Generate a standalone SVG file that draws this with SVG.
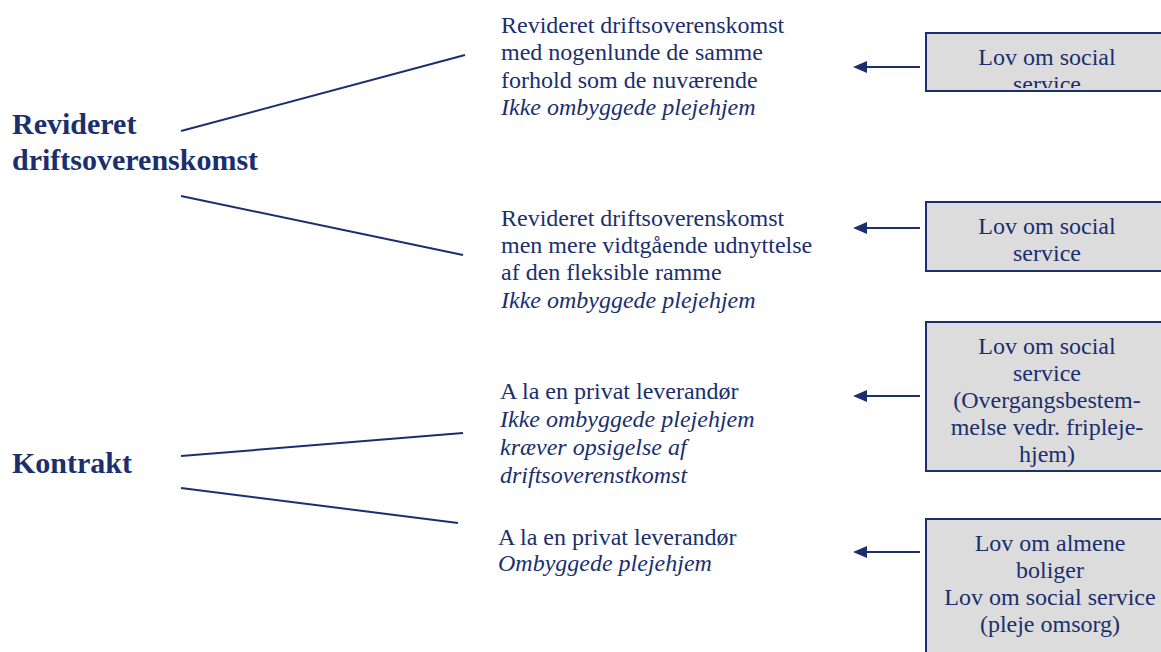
<svg xmlns="http://www.w3.org/2000/svg" width="1161" height="652" viewBox="0 0 1161 652">
<style>
text{font-family:"Liberation Serif","Times New Roman",serif;fill:#1b2f6e;font-size:24px}
.h{font-weight:bold;font-size:30px}
.i{font-style:italic}
.c{text-anchor:middle}
.box{fill:#dcdcdc;stroke:#1b2f6e;stroke-width:2}
.ln{stroke:#1b2f6e;stroke-width:2;fill:none}
</style>
<defs>
<marker id="ah" viewBox="0 0 14 12" refX="1" refY="6" markerWidth="14" markerHeight="12" markerUnits="userSpaceOnUse" orient="auto-start-reverse"><path d="M0,0 L14,6 L0,12 z" fill="#1b2f6e"/></marker>
<clipPath id="c1"><rect x="927" y="34" width="240" height="54"/></clipPath>
<clipPath id="c3"><rect x="927" y="323" width="240" height="145"/></clipPath>
</defs>
<g id="connectors">
<line class="ln" x1="181" y1="131" x2="465" y2="55"/>
<line class="ln" x1="181" y1="196" x2="463" y2="255"/>
<line class="ln" x1="181" y1="456" x2="463" y2="433"/>
<line class="ln" x1="181" y1="488" x2="458" y2="523"/>
<line class="ln" x1="920" y1="67" x2="866" y2="67" marker-end="url(#ah)"/>
<line class="ln" x1="920" y1="228" x2="866" y2="228" marker-end="url(#ah)"/>
<line class="ln" x1="920" y1="396" x2="866" y2="396" marker-end="url(#ah)"/>
<line class="ln" x1="920" y1="552" x2="866" y2="552" marker-end="url(#ah)"/>
</g>
<g id="revideret">
<text class="h" x="12" y="134">Revideret</text>
<text class="h" x="12" y="170">driftsoverenskomst</text>
</g>
<g id="kontrakt">
<text class="h" x="12" y="473">Kontrakt</text>
</g>
<g id="opt1">
<text x="501" y="33">Revideret driftsoverenskomst</text>
<text x="501" y="60">med nogenlunde de samme</text>
<text x="501" y="88">forhold som de nuværende</text>
<text class="i" x="501" y="115">Ikke ombyggede plejehjem</text>
</g>
<g id="opt2">
<text x="501" y="226">Revideret driftsoverenskomst</text>
<text x="501" y="253">men mere vidtgående udnyttelse</text>
<text x="501" y="280">af den fleksible ramme</text>
<text class="i" x="501" y="308">Ikke ombyggede plejehjem</text>
</g>
<g id="opt3">
<text x="500" y="399">A la en privat leverandør</text>
<text class="i" x="500" y="427">Ikke ombyggede plejehjem</text>
<text class="i" x="500" y="455">kræver opsigelse af</text>
<text class="i" x="500" y="483">driftsoverenstkomst</text>
</g>
<g id="opt4">
<text x="498" y="545">A la en privat leverandør</text>
<text class="i" x="498" y="571">Ombyggede plejehjem</text>
</g>
<g id="law1">
<rect class="box" x="926" y="33" width="245" height="58"/>
<g clip-path="url(#c1)">
<text class="c" x="1047" y="65">Lov om social</text>
<text class="c" x="1047" y="92">service</text>
</g>
</g>
<g id="law2">
<rect class="box" x="926" y="202" width="245" height="69"/>
<text class="c" x="1047" y="234">Lov om social</text>
<text class="c" x="1047" y="261">service</text>
</g>
<g id="law3">
<rect class="box" x="926" y="322" width="245" height="149"/>
<g clip-path="url(#c3)">
<text class="c" x="1047" y="354">Lov om social</text>
<text class="c" x="1047" y="381">service</text>
<text class="c" x="1047" y="408">(Overgangsbestem-</text>
<text class="c" x="1047" y="435">melse vedr. fripleje-</text>
<text class="c" x="1047" y="462">hjem)</text>
</g>
</g>
<g id="law4">
<rect class="box" x="926" y="519" width="245" height="150"/>
<text class="c" x="1050" y="551">Lov om almene</text>
<text class="c" x="1050" y="578">boliger</text>
<text class="c" x="1050" y="605">Lov om social service</text>
<text class="c" x="1050" y="632">(pleje omsorg)</text>
</g>
</svg>
